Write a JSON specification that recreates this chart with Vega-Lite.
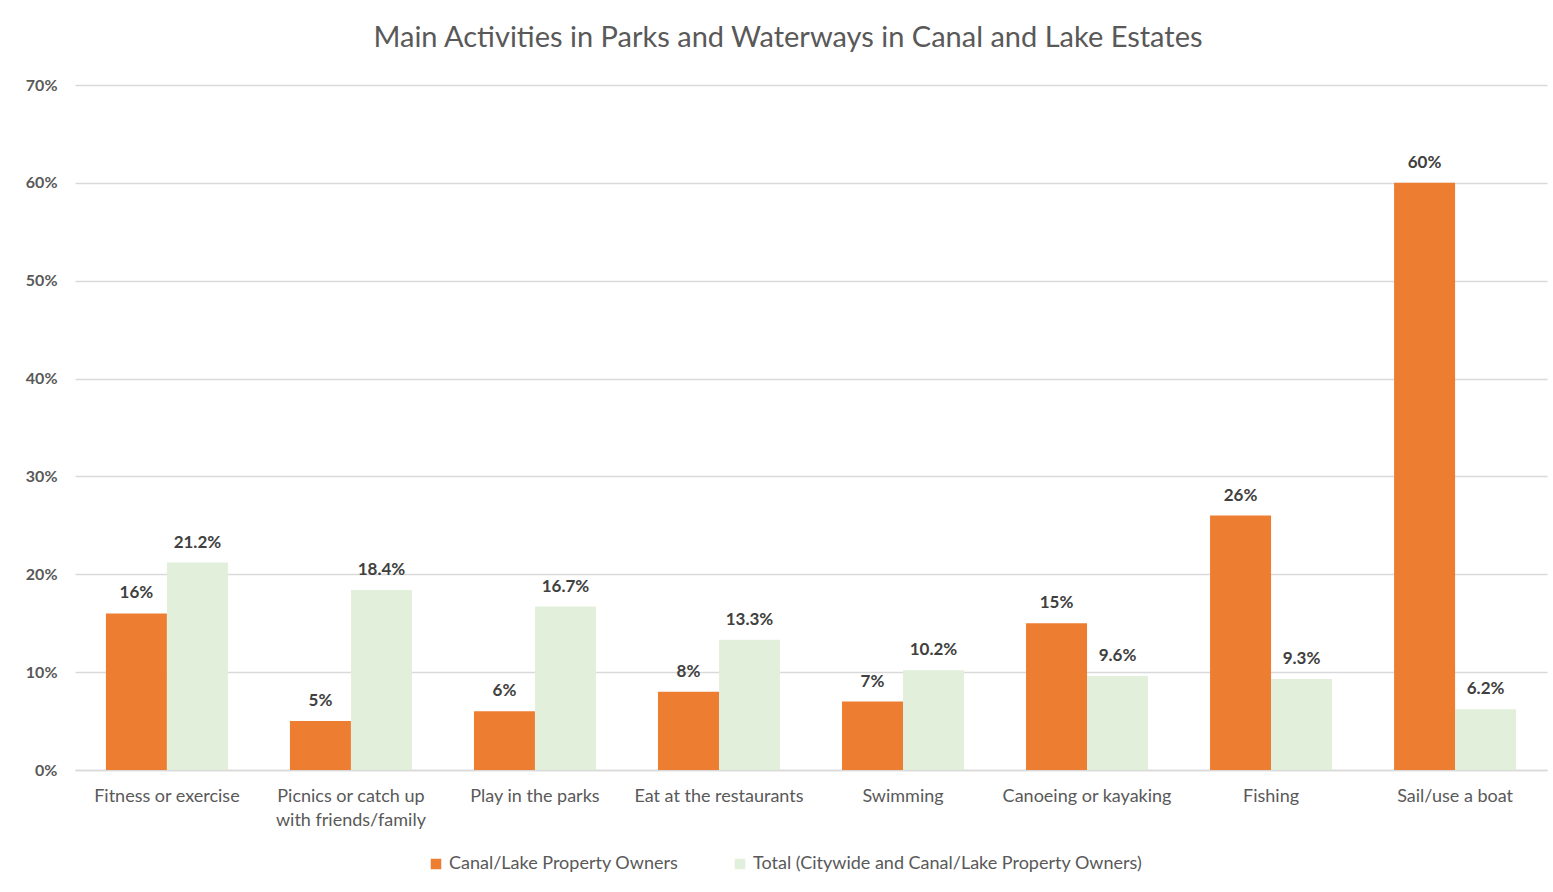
{
  "$schema": "https://vega.github.io/schema/vega-lite/v6.json",
  "width": 1472,
  "height": 685,
  "autosize": {"type": "none"},
  "padding": {"left": 75, "top": 85, "right": 6, "bottom": 122},
  "background": "white",
  "title": {
    "text": "Main Activities in Parks and Waterways in Canal and Lake  Estates",
    "fontSize": 29,
    "font": "Lato",
    "fontWeight": "normal",
    "color": "#595959",
    "anchor": "middle",
    "frame": "group",
    "dx": -23,
    "offset": 24
  },
  "config": {
    "view": {"stroke": null},
    "font": "Lato",
    "axis": {"labelFont": "Lato", "labelColor": "#595959", "labelFontSize": 18},
    "legend": {"labelFont": "Lato", "labelColor": "#595959", "labelFontSize": 18}
  },
  "data": {
    "values": [
      {"activity": "Fitness or exercise", "series": "Canal/Lake Property Owners", "value": 0.16},
      {"activity": "Fitness or exercise", "series": "Total (Citywide and Canal/Lake Property Owners)", "value": 0.212},
      {"activity": "Picnics or catch up with friends/family", "series": "Canal/Lake Property Owners", "value": 0.05},
      {"activity": "Picnics or catch up with friends/family", "series": "Total (Citywide and Canal/Lake Property Owners)", "value": 0.184},
      {"activity": "Play in the parks", "series": "Canal/Lake Property Owners", "value": 0.06},
      {"activity": "Play in the parks", "series": "Total (Citywide and Canal/Lake Property Owners)", "value": 0.167},
      {"activity": "Eat at the restaurants", "series": "Canal/Lake Property Owners", "value": 0.08},
      {"activity": "Eat at the restaurants", "series": "Total (Citywide and Canal/Lake Property Owners)", "value": 0.133},
      {"activity": "Swimming", "series": "Canal/Lake Property Owners", "value": 0.07},
      {"activity": "Swimming", "series": "Total (Citywide and Canal/Lake Property Owners)", "value": 0.102},
      {"activity": "Canoeing or kayaking", "series": "Canal/Lake Property Owners", "value": 0.15},
      {"activity": "Canoeing or kayaking", "series": "Total (Citywide and Canal/Lake Property Owners)", "value": 0.096},
      {"activity": "Fishing", "series": "Canal/Lake Property Owners", "value": 0.26},
      {"activity": "Fishing", "series": "Total (Citywide and Canal/Lake Property Owners)", "value": 0.093},
      {"activity": "Sail/use a boat", "series": "Canal/Lake Property Owners", "value": 0.60},
      {"activity": "Sail/use a boat", "series": "Total (Citywide and Canal/Lake Property Owners)", "value": 0.062}
    ]
  },
  "encoding": {
    "x": {
      "field": "activity",
      "type": "nominal",
      "sort": null,
      "title": null,
      "scale": {"paddingInner": 0.337, "paddingOuter": 0.168},
      "axis": {
        "labelAngle": 0,
        "ticks": false,
        "domain": true,
        "domainColor": "#d9d9d9",
        "domainWidth": 1.5,
        "labelPadding": 17,
        "labelLineHeight": 24,
        "labelExpr": "datum.label == 'Picnics or catch up with friends/family' ? ['Picnics or catch up', 'with friends/family'] : datum.label"
      }
    },
    "xOffset": {"field": "series", "type": "nominal", "sort": null},
    "y": {
      "field": "value",
      "type": "quantitative",
      "title": null,
      "scale": {"domain": [0, 0.7]},
      "axis": {
        "format": ".0%",
        "values": [0, 0.1, 0.2, 0.3, 0.4, 0.5, 0.6, 0.7],
        "domain": false,
        "ticks": false,
        "grid": true,
        "gridColor": "#d9d9d9",
        "gridWidth": 1.5,
        "labelPadding": 18,
        "labelFontWeight": "bold",
        "labelFontSize": 16
      }
    }
  },
  "layer": [
    {
      "mark": {"type": "bar"},
      "encoding": {
        "color": {
          "field": "series",
          "type": "nominal",
          "sort": null,
          "scale": {
            "domain": ["Canal/Lake Property Owners", "Total (Citywide and Canal/Lake Property Owners)"],
            "range": ["#ED7D31", "#E2EFDA"]
          },
          "legend": {
            "title": null,
            "orient": "none",
            "direction": "horizontal",
            "legendX": 352,
            "legendY": 770,
            "symbolType": "square",
            "symbolSize": 110,
            "symbolStrokeWidth": 0,
            "columnPadding": 52,
            "labelOffset": 4,
            "labelLimit": 600
          }
        }
      }
    },
    {
      "transform": [{"filter": "datum.series == 'Canal/Lake Property Owners'"}],
      "mark": {"type": "text", "baseline": "bottom", "dy": -11, "fontSize": 17, "fontWeight": "bold", "color": "#404040"},
      "encoding": {"text": {"field": "value", "type": "quantitative", "format": ".0%"}}
    },
    {
      "transform": [{"filter": "datum.series != 'Canal/Lake Property Owners'"}],
      "mark": {"type": "text", "baseline": "bottom", "dy": -11, "fontSize": 17, "fontWeight": "bold", "color": "#404040"},
      "encoding": {"text": {"field": "value", "type": "quantitative", "format": ".1%"}}
    }
  ]
}
